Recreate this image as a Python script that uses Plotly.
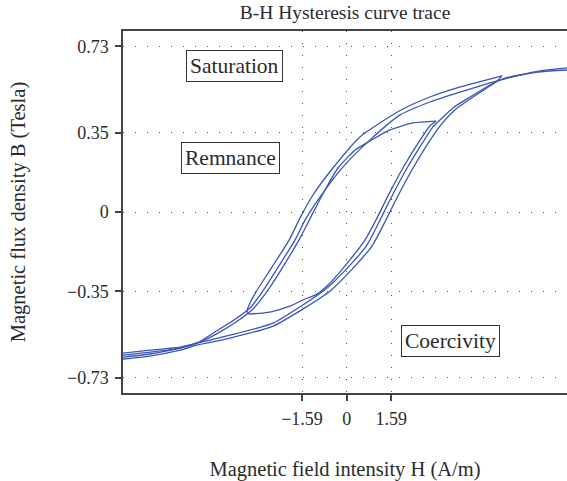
import plotly.graph_objects as go

# --- data (H in A/m, B in Tesla) ---
H_a1 = [-7.96, -7.00, -5.93, -5.33, -4.15, -2.62, -1.56, -0.70, 0.12, 0.72, 1.19, 1.54, 2.15, 2.72, 3.07, 3.32, 3.78, 4.39, 5.10, 5.56, 6.17, 6.88, 7.84]
B_a1 = [-0.640, -0.626, -0.600, -0.578, -0.543, -0.490, -0.410, -0.335, -0.234, -0.146, -0.035, 0.053, 0.194, 0.309, 0.375, 0.406, 0.459, 0.507, 0.560, 0.587, 0.604, 0.618, 0.626]

H_d1 = [7.84, 6.88, 6.17, 5.63, 5.10, 4.03, 2.96, 1.90, 0.83, -0.13, -0.95, -1.48, -1.84, -2.44, -3.01, -3.44, -4.01, -4.69, -5.33, -5.93, -7.00, -7.96]
B_d1 = [0.635, 0.622, 0.604, 0.587, 0.569, 0.529, 0.485, 0.428, 0.318, 0.199, 0.066, -0.035, -0.124, -0.243, -0.353, -0.423, -0.476, -0.529, -0.578, -0.600, -0.618, -0.631]

H_a2 = [-7.96, -7.00, -5.93, -5.33, -4.15, -2.62, -1.56, -0.59, 0.26, 0.90, 1.36, 1.75, 2.32, 2.86, 3.32, 3.85, 4.39, 4.99, 5.35, 5.53]
B_a2 = [-0.648, -0.635, -0.609, -0.587, -0.556, -0.503, -0.428, -0.348, -0.243, -0.150, -0.044, 0.053, 0.185, 0.296, 0.379, 0.450, 0.498, 0.547, 0.578, 0.600]

H_d2 = [5.53, 4.85, 3.93, 2.96, 2.00, 1.29, 0.47, -0.49, -1.20, -1.66, -2.05, -2.66, -3.23, -3.44, -3.55, -3.48]
B_d2 = [0.600, 0.578, 0.547, 0.507, 0.454, 0.401, 0.331, 0.194, 0.075, -0.026, -0.124, -0.243, -0.353, -0.401, -0.437, -0.450]

H_a3 = [-3.48, -2.73, -2.02, -1.56, -1.06, -0.59, 0.05, 0.65, 1.08, 1.47, 2.00, 2.57, 2.96, 3.18]
B_a3 = [-0.450, -0.441, -0.415, -0.388, -0.362, -0.313, -0.221, -0.124, -0.026, 0.071, 0.194, 0.309, 0.379, 0.401]

H_d3 = [3.18, 2.36, 1.54, 0.83, 0.30, -0.31, -0.77, -1.20, -1.66, -2.23, -2.80, -3.37, -3.94, -4.58, -5.22, -5.93, -7.00, -7.96]
B_d3 = [0.401, 0.393, 0.362, 0.313, 0.273, 0.194, 0.097, -0.004, -0.115, -0.234, -0.344, -0.432, -0.485, -0.534, -0.573, -0.596, -0.609, -0.622]

y_ticks = [0.73, 0.35, 0, -0.35, -0.73]
y_tick_labels = ["0.73", "0.35", "0", "\u22120.35", "\u22120.73"]
x_ticks = [-1.59, 0, 1.59]
x_tick_labels = ["\u22121.59", "0", "1.59"]

labels = ["Saturation", "Remnance", "Coercivity"]
label_H = [-3.98, -4.14, 3.71]
label_B = [0.644, 0.238, -0.569]

FONT = "Liberation Serif"
TXT = "#2b2b2b"
AX = "#444444"

fig = go.Figure()
# each sweep of the trace drawn as its own smooth segment (tips stay sharp)
for hs, bs in [(H_a1, B_a1), (H_d1, B_d1), (H_a2, B_a2), (H_d2, B_d2), (H_a3, B_a3), (H_d3, B_d3)]:
    fig.add_trace(go.Scatter(
        x=hs, y=bs, mode="lines",
        line=dict(color="#3a56b4", width=1.3, shape="spline", smoothing=0.6),
        showlegend=False, hoverinfo="skip"))

for t, hx, by in zip(labels, label_H, label_B):
    fig.add_annotation(x=hx, y=by, text=t, showarrow=False,
                       font=dict(family=FONT, size=21.5, color=TXT),
                       bgcolor="white", bordercolor="#333333", borderwidth=1, borderpad=3)

fig.update_layout(
    width=567, height=481,
    margin=dict(l=123, r=0, t=31, b=88),
    paper_bgcolor="white", plot_bgcolor="white",
    font=dict(family=FONT, size=18, color=TXT),
    title=dict(text="B-H Hysteresis curve trace", x=0.5, xref="paper", xanchor="center",
               y=0.975, yref="container", yanchor="middle",
               font=dict(family=FONT, size=19.5, color=TXT)),
    xaxis=dict(range=[-7.96, 7.84], tickvals=x_ticks, ticktext=x_tick_labels,
               showline=True, linecolor=AX, linewidth=1.5, mirror=True,
               ticks="outside", ticklen=6, tickcolor=AX, tickwidth=1.5,
               ticklabelstandoff=3,
               showgrid=True, gridcolor="#555555", gridwidth=1, griddash="1px,11px",
               zeroline=False, tickfont=dict(size=18),
               title=dict(text="Magnetic field intensity H (A/m)", font=dict(size=20.5), standoff=37)),
    yaxis=dict(range=[-0.798, 0.798], tickvals=y_ticks, ticktext=y_tick_labels,
               showline=True, linecolor=AX, linewidth=1.5, mirror=False,
               ticks="outside", ticklen=6, tickcolor=AX, tickwidth=1.5,
               ticklabelstandoff=3,
               showgrid=True, gridcolor="#555555", gridwidth=1, griddash="1px,11px",
               zeroline=False, tickfont=dict(size=18),
               title=dict(text="Magnetic flux density B (Tesla)", font=dict(size=20.5), standoff=36)),
)

fig.write_html("out.html", config={"displayModeBar": False},
               post_script="document.body.style.margin='0';")
